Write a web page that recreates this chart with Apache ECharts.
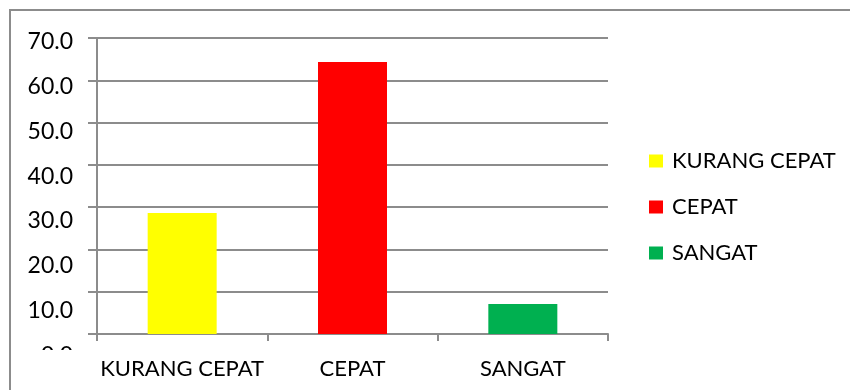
<!DOCTYPE html>
<html>
<head>
<meta charset="utf-8">
<script src="https://cdn.jsdelivr.net/npm/echarts@6/dist/echarts.min.js"></script>
<style>
  html, body { margin: 0; padding: 0; background: #fff; overflow: hidden; }
  #wrap { position: relative; width: 850px; height: 390px; overflow: hidden; }
  /* chart area frame, runs off the right/bottom edge like the source */
  #frame { position: absolute; left: 9px; top: 9px; width: 900px; height: 500px; border-left: 2px solid #8c8c8c; border-top: 2px solid #8c8c8c; }
  #chart { position: absolute; left: 0; top: 0; width: 850px; height: 390px; }
  /* the 0.0 label is cut off in the original */
  #clip { position: absolute; left: 20px; top: 350px; width: 70px; height: 40px; background: #fff; }
</style>
</head>
<body>
<div id="wrap">
  <div id="frame"></div>
  <div id="chart"></div>
  <div id="clip"></div>
</div>
<script>
// data
const categories = ['KURANG CEPAT', 'CEPAT', 'SANGAT']
const values = [28.6, 64.3, 7.1]
const colors = ['#FFFF00', '#FF0000', '#00B050']
const yMin = 0
const yMax = 70
const yStep = 10

const font = 'Lato, "Open Sans", sans-serif'
const fontSize = 22
const gray = '#8c8c8c'

const chart = echarts.init(document.getElementById('chart'), null, { renderer: 'canvas' })

// one series per category so the legend lists each one
const series = categories.map((name, i) => ({
  name: name,
  type: 'bar',
  xAxisIndex: 0,
  yAxisIndex: 0,
  barWidth: 69,
  barGap: '-100%',
  itemStyle: { color: colors[i] },
  data: categories.map((c, j) => (j === i ? values[i] : '-'))
}))

const option = {
  animation: false,
  textStyle: { fontFamily: font },
  grid: [
    // plot area
    { left: 97, right: 242, top: 38, bottom: 56 },
    // labels of the value axis sit on a slightly taller scale in the source
    { left: 97, width: 10, top: 41.7, bottom: 34.5 }
  ],
  legend: {
    orient: 'vertical',
    left: 644,
    top: 144,
    itemWidth: 14,
    itemHeight: 13,
    itemGap: 22,
    icon: 'rect',
    data: categories,
    textStyle: {
      fontFamily: font,
      fontSize: fontSize,
      lineHeight: 24,
      color: '#000',
      padding: [0, 0, 0, 4]
    }
  },
  xAxis: [
    {
      gridIndex: 0,
      type: 'category',
      data: categories,
      axisLine: { lineStyle: { color: gray, width: 2 } },
      axisTick: { show: true, length: 7, lineStyle: { color: gray, width: 2 } },
      axisLabel: { interval: 0, margin: 24, fontFamily: font, fontSize: fontSize, color: '#000' }
    },
    {
      gridIndex: 1,
      type: 'category',
      data: [''],
      show: false
    }
  ],
  yAxis: [
    {
      gridIndex: 0,
      type: 'value',
      min: yMin,
      max: yMax,
      interval: yStep,
      axisLine: { show: true, lineStyle: { color: gray, width: 2 } },
      axisTick: { show: true, length: 9, lineStyle: { color: gray, width: 2 } },
      axisLabel: { show: false },
      splitLine: { show: true, lineStyle: { color: gray, width: 2 } }
    },
    {
      gridIndex: 1,
      type: 'value',
      min: yMin,
      max: yMax,
      interval: yStep,
      axisLine: { show: false },
      axisTick: { show: false },
      splitLine: { show: false },
      axisLabel: {
        margin: 24,
        fontFamily: font,
        fontSize: 23,
        color: '#000',
        formatter: v => v.toFixed(1)
      }
    }
  ],
  series: series
}

chart.setOption(option)
</script>
</body>
</html>
